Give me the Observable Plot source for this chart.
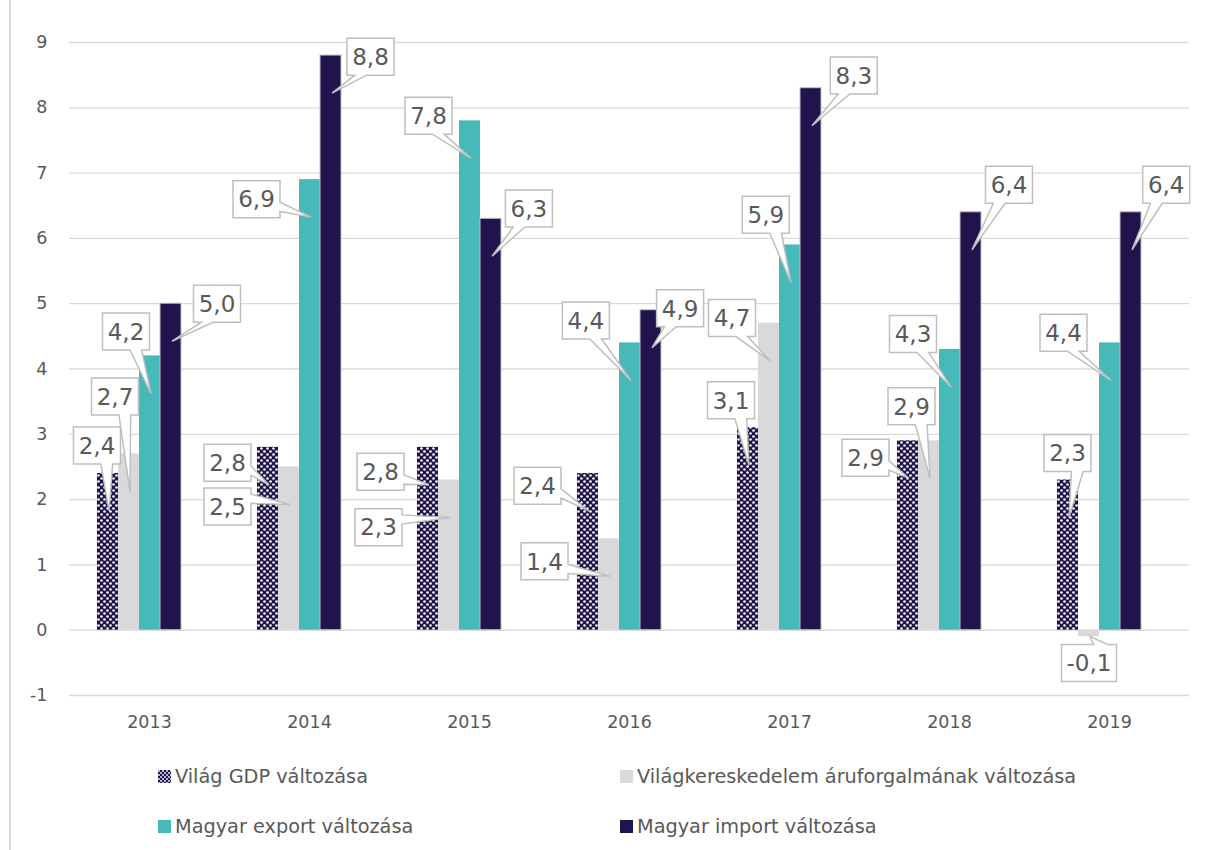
<!DOCTYPE html>
<html><head><meta charset="utf-8">
<script src="https://cdn.jsdelivr.net/npm/d3@7"></script>
<script src="https://cdn.jsdelivr.net/npm/@observablehq/plot@0.6"></script>
<style>
body{margin:0;background:#fff;font-family:"DejaVu Sans",sans-serif;}
#wrap{position:relative;width:1215px;height:850px;overflow:hidden;}
#border{position:absolute;left:9px;top:0;width:2px;height:850px;background:#d9d9d9;}
#chart{position:absolute;left:0;top:0;}
.leg{position:absolute;font-size:19.3px;color:#595959;display:flex;align-items:center;white-space:nowrap;height:22px;}
.leg svg{margin-right:4px;}
</style></head>
<body><div id="wrap"><div id="border"></div><div id="chart"></div><div id="legend"></div></div>
<script>
// ---- data ----
const years = ["2013", "2014", "2015", "2016", "2017", "2018", "2019"];
const seriesNames = [
  "Világ GDP változása",
  "Világkereskedelem áruforgalmának változása",
  "Magyar export változása",
  "Magyar import változása"
];
const worldGdp   = [2.4, 2.8, 2.8, 2.4, 3.1, 2.9, 2.3];
const worldTrade = [2.7, 2.5, 2.3, 1.4, 4.7, 2.9, -0.1];
const huExport   = [4.2, 6.9, 7.8, 4.4, 5.9, 4.3, 4.4];
const huImport   = [5.0, 8.8, 6.3, 4.9, 8.3, 6.4, 6.4];
const yTicks = [-1, 0, 1, 2, 3, 4, 5, 6, 7, 8, 9];

// ---- styles / layout (kept apart from data) ----
const fills = ["url(#gdpPat)", "#d9d9d9", "#47b9b9", "#21134d"];
const strokes = ["none", "none", "none", "#bfbfbf"];
// callout box centre offsets (px) relative to bar top-centre, per series, per year
const calloutOffsets = [
  [[-10.5,-27.5],[-40,16],[-47,25],[-50,12.7],[-16.5,-27],[-42,17.4],[0,-26.5]],
  [[-13.5,-57],[-61,40],[-70,47.7],[-64,23],[-36.5,-4.7],[-17,-34],[0.5,26.8]],
  [[-23.5,-24],[-53,20],[-41,-4.7],[-43.6,-22],[-23.7,-29.7],[-36.5,-15],[-46,-9.7]],
  [[46.5,0.5],[40,1.6],[38.4,-9.8],[29.6,-1.5],[43.3,-12.2],[38.5,-27],[35.7,-27]]
];

const seriesValues = [worldGdp, worldTrade, huExport, huImport];
const rows = [];
years.forEach((yr, j) => seriesNames.forEach((s, i) => rows.push({
  year: yr, series: s, value: seriesValues[i][j],
  fill: fills[i], stroke: strokes[i], off: calloutOffsets[i][j]
})));

const fmt = v => v.toFixed(1).replace(".", ",");

function calloutRender(index, scales, values, dims, context) {
  const g = d3.create("svg:g");
  const bw = scales.x.bandwidth ? scales.x.bandwidth() : 0;
  for (const i of index) {
    const d = rows[i];
    const cx = scales.x(d.series) + bw / 2;
    const yv = scales.y(d.value);
    const tx = cx + 1.5, ty = yv + (d.value >= 0 ? 38 : 0);
    const label = fmt(d.value);
    const w = 23 + 8 * label.length, h = 37;
    const bx = cx + d.off[0], by = yv + d.off[1];
    const l = bx - w / 2, r = bx + w / 2, t = by - h / 2, b = by + h / 2;
    const dxPos = tx - bx, dyPos = ty - by;
    const dq = dxPos * h / w;
    const dz = Math.abs(dyPos) - Math.abs(dq);
    const side = dz > 0 ? (dyPos < 0 ? "top" : "bottom") : (dxPos < 0 ? "left" : "right");
    const x1 = w * (dxPos > 0 ? 7 : 2) / 12, x2 = w * (dxPos > 0 ? 10 : 5) / 12;
    const y1 = h * (dyPos > 0 ? 7 : 2) / 12, y2 = h * (dyPos > 0 ? 10 : 5) / 12;
    let p = `M${l},${t}`;
    if (side === "top") p += `L${l + x1},${t}L${tx},${ty}L${l + x2},${t}`;
    p += `L${r},${t}`;
    if (side === "right") p += `L${r},${t + y1}L${tx},${ty}L${r},${t + y2}`;
    p += `L${r},${b}`;
    if (side === "bottom") p += `L${l + x2},${b}L${tx},${ty}L${l + x1},${b}`;
    p += `L${l},${b}`;
    if (side === "left") p += `L${l},${t + y2}L${tx},${ty}L${l},${t + y1}`;
    p += "Z";
    g.append("path").attr("d", p).attr("fill", "#fff").attr("stroke", "#bfbfbf").attr("stroke-width", 1.5).attr("stroke-linejoin", "miter");
    g.append("text").attr("x", bx).attr("y", by).attr("dy", "0.36em")
      .attr("text-anchor", "middle").attr("fill", "#595959")
      .attr("font-size", 23).attr("font-family", "DejaVu Sans, sans-serif").text(label);
  }
  return g.node();
}

const plot = Plot.plot({
  width: 1215, height: 745,
  marginLeft: 68, marginRight: 25, marginTop: 42, marginBottom: 50,
  style: {fontFamily: "DejaVu Sans, sans-serif", fontSize: "17px", color: "#595959", background: "transparent"},
  fx: {domain: years, padding: 0, label: null},
  x: {domain: [...seriesNames, "_gap"], paddingInner: 0, paddingOuter: 25 / 22, axis: null},
  y: {domain: [-1, 9], label: null},
  color: {type: "identity"},
  marks: [
    Plot.gridY(yTicks, {stroke: "#d9d9d9", strokeOpacity: 1, strokeWidth: 1.3}),
    Plot.axisY(yTicks, {tickSize: 0, tickPadding: 22, fontSize: 17.5, label: null, tickFormat: d => String(d)}),
    Plot.axisFx({anchor: "bottom", tickSize: 0, tickPadding: 20, fontSize: 17.5, label: null}),
    Plot.barY(rows, {fx: "year", x: "series", y: "value", fill: "fill", stroke: "stroke", strokeWidth: 1}),
    Plot.dot(rows, {fx: "year", x: "series", y: "value", render: calloutRender})
  ]
});

const defs = d3.select(plot).insert("defs", ":first-child");
const pat = defs.append("pattern").attr("id", "gdpPat").attr("patternUnits", "userSpaceOnUse").attr("width", 6).attr("height", 6);
pat.append("rect").attr("width", 6).attr("height", 6).attr("fill", "#21134d");
pat.append("circle").attr("cx", 1.5).attr("cy", 1.5).attr("r", 1.3).attr("fill", "#fff");
pat.append("circle").attr("cx", 4.5).attr("cy", 4.5).attr("r", 1.3).attr("fill", "#fff");
document.getElementById("chart").appendChild(plot);

// legend
const legendPos = [[158, 765], [620, 765], [158, 815], [620, 815]];
const legend = d3.select("#legend");
seriesNames.forEach((s, i) => {
  const item = legend.append("div").attr("class", "leg")
    .style("left", legendPos[i][0] + "px").style("top", legendPos[i][1] + "px");
  const sw = item.append("svg").attr("width", 13).attr("height", 13);
  if (i === 0) {
    const p2 = sw.append("defs").append("pattern").attr("id", "gdpPatLeg").attr("patternUnits", "userSpaceOnUse").attr("width", 4).attr("height", 4);
    p2.append("rect").attr("width", 4).attr("height", 4).attr("fill", "#21134d");
    p2.append("circle").attr("cx", 1).attr("cy", 1).attr("r", 0.9).attr("fill", "#fff");
    p2.append("circle").attr("cx", 3).attr("cy", 3).attr("r", 0.9).attr("fill", "#fff");
    sw.append("rect").attr("width", 13).attr("height", 13).attr("fill", "url(#gdpPatLeg)");
  } else {
    sw.append("rect").attr("width", 13).attr("height", 13).attr("fill", fills[i]);
  }
  item.append("span").text(s);
});
</script>
</body></html>
